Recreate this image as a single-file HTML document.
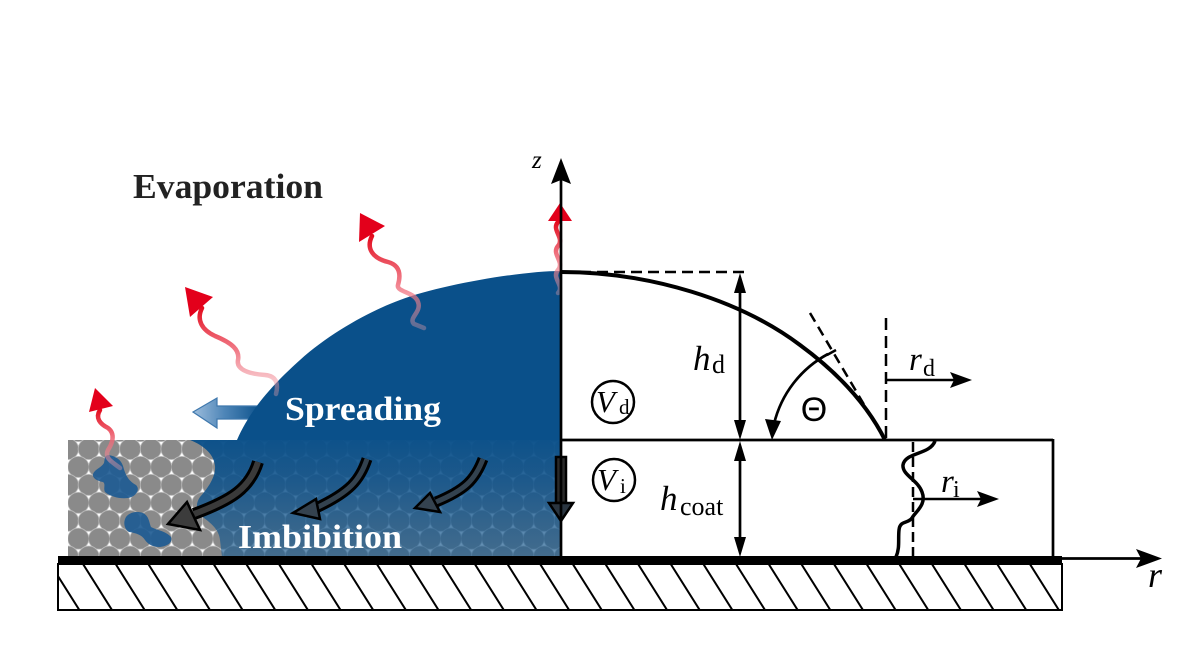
<!DOCTYPE html>
<html><head><meta charset="utf-8"><style>
html,body{margin:0;padding:0;background:#fff;}
svg{display:block;}
.m{font-family:"Liberation Serif",serif;font-style:italic;fill:#000;}
.s{font-family:"Liberation Serif",serif;fill:#000;}
.b{font-family:"Liberation Serif",serif;font-weight:bold;}
</style></head><body>
<svg width="1180" height="664" viewBox="0 0 1180 664" xmlns="http://www.w3.org/2000/svg">
<defs>
 <pattern id="hex" x="68" y="449" width="20.7" height="35.86" patternUnits="userSpaceOnUse">
   <rect width="20.7" height="35.86" fill="#ffffff"/>
   <g fill="#8a8a8a" stroke="#c4c4c4" stroke-width="0.7">
   <circle cx="0" cy="0" r="10.6"/>
   <circle cx="20.7" cy="0" r="10.6"/>
   <circle cx="10.35" cy="17.93" r="10.6"/>
   <circle cx="0" cy="35.86" r="10.6"/>
   <circle cx="20.7" cy="35.86" r="10.6"/>
   </g>
 </pattern>
 <linearGradient id="coat" gradientUnits="userSpaceOnUse" x1="0" y1="440" x2="0" y2="557">
   <stop offset="0" stop-color="#0a508a" stop-opacity="0.97"/>
   <stop offset="0.35" stop-color="#0c518b" stop-opacity="0.86"/>
   <stop offset="1" stop-color="#1b5b8f" stop-opacity="0.64"/>
 </linearGradient>
 <linearGradient id="wave" x1="0" y1="0" x2="0" y2="1">
   <stop offset="0" stop-color="#e30b1d" stop-opacity="1"/>
   <stop offset="0.5" stop-color="#ee6574" stop-opacity="0.85"/>
   <stop offset="1" stop-color="#f3a3ab" stop-opacity="0.35"/>
 </linearGradient>
 <linearGradient id="spr" x1="0" y1="0" x2="1" y2="0">
   <stop offset="0" stop-color="#9dbddc"/>
   <stop offset="0.45" stop-color="#4f86b8"/>
   <stop offset="1" stop-color="#0a508a"/>
 </linearGradient>
 <clipPath id="hc"><rect x="59" y="565" width="1002" height="44"/></clipPath>
</defs>

<rect x="68" y="440" width="493" height="117" fill="url(#hex)"/>
<path d="M190,440 L561,440 L561,557 L222,557 L220,540 C219,530 212,524 204,518 C196,512 195,504 200,497 C206,490 216,478 215,466 C214,455 205,446 190,440 Z" fill="url(#coat)"/>
<path d="M108,455 C116,456 121,460 123,466 C125,473 127,480 136,485 C141,490 135,497 128,498 C120,499 111,497 105,492 C103,488 106,484 103,482 C97,481 92,478 93,474 C95,469 101,468 104,463 C105,459 104,456 108,455 Z" fill="#1c5a92" fill-opacity="0.9"/>
<path d="M126,517 C130,512 137,511 143,513 C149,516 149,522 151,527 C156,530 166,531 171,537 C173,543 167,546 160,547 C152,547 148,544 145,540 C142,535 136,533 129,532 C124,529 123,522 126,517 Z" fill="#1c5a92" fill-opacity="0.9"/>

<path d="M193,412 L217,398 L217,406 L262,406 L262,419 L217,419 L217,428 Z" fill="url(#spr)" stroke="#3f78ad" stroke-width="1.2"/>

<path d="M561,271 C520,271 440,285 400,300 C370,311 330,333 300,360 C280,378 252,405 237,440 L561,440 Z" fill="#0a508a"/>

<g fill="none" stroke="url(#wave)" stroke-width="4.5" stroke-linecap="round">
 <path d="M558,222 C551,230 565,238 558,246 C551,254 565,262 558,270 C551,278 565,286 558,293"/>
 <path d="M372,236 C366,248 372,258 388,262 C402,266 400,278 398,285 C396,292 415,292 418,302 C422,312 408,318 414,324 L424,328"/>
 <path d="M202,308 C196,320 202,330 215,336 C232,343 240,350 238,360 C236,370 250,374 265,375 C278,376 278,386 276,394"/>
 <path d="M100,410 C95,418 100,424 108,428 C116,434 112,444 108,450 C104,458 112,462 120,468"/>
</g>
<g fill="#e3001b">
 <polygon points="548,221 572,221 560,203"/>
 <polygon points="360,213 359,242 385,226"/>
 <polygon points="185,287 190,317 213,297"/>
 <polygon points="95,388 89,412 113,406"/>
</g>

<g fill="none" stroke-linecap="butt">
 <path d="M258,462 C250,488 232,500 194,514" stroke="#000" stroke-width="12"/>
 <path d="M258,462 C250,488 232,500 194,514" stroke="#3a3a3a" stroke-width="6"/>
 <path d="M367,459 C360,480 350,492 316,508" stroke="#000" stroke-width="11"/>
 <path d="M367,459 C360,480 350,492 316,508" stroke="#33424f" stroke-width="5"/>
 <path d="M483,459 C475,480 465,490 436,502" stroke="#000" stroke-width="11"/>
 <path d="M483,459 C475,480 465,490 436,502" stroke="#33424f" stroke-width="5"/>
</g>
<g stroke="#000" stroke-width="2.5" stroke-linejoin="miter">
 <polygon points="168,524 187,502 200,530" fill="#3c3c3c"/>
 <polygon points="293,513 316,499 320,519" fill="#34424f"/>
 <polygon points="415,508 430,493 440,512" fill="#34424f"/>
 <rect x="556" y="457" width="10" height="46" fill="#2a2a2a"/>
 <polygon points="549,503 573,503 561,521" fill="#2a3540"/>
</g>

<text class="b" x="285" y="420" font-size="34" fill="#fff" textLength="156" lengthAdjust="spacingAndGlyphs">Spreading</text>
<text class="b" x="238" y="548" font-size="34" fill="#fff" textLength="164" lengthAdjust="spacingAndGlyphs">Imbibition</text>
<text class="b" x="133" y="198" font-size="35" fill="#222" textLength="190" lengthAdjust="spacingAndGlyphs">Evaporation</text>

<rect x="58" y="564" width="1004" height="46" fill="#fff" stroke="#000" stroke-width="2"/>
<g clip-path="url(#hc)" stroke="#000" stroke-width="2">
 <path d="M50.35,564 l29,46 M83,564 l29,46 M115.65,564 l29,46 M148.3,564 l29,46 M180.95,564 l29,46 M213.6,564 l29,46 M246.25,564 l29,46 M278.9,564 l29,46 M311.55,564 l29,46 M344.2,564 l29,46 M376.85,564 l29,46 M409.5,564 l29,46 M442.15,564 l29,46 M474.8,564 l29,46 M507.45,564 l29,46 M540.1,564 l29,46 M572.75,564 l29,46 M605.4,564 l29,46 M638.05,564 l29,46 M670.7,564 l29,46 M703.35,564 l29,46 M736,564 l29,46 M768.65,564 l29,46 M801.3,564 l29,46 M833.95,564 l29,46 M866.6,564 l29,46 M899.25,564 l29,46 M931.9,564 l29,46 M964.55,564 l29,46 M997.2,564 l29,46 M1029.85,564 l29,46"/>
</g>
<rect x="58" y="556" width="1004" height="8" fill="#000"/>

<g stroke="#000" fill="none">
 <line x1="561" y1="557" x2="561" y2="176" stroke-width="2.7"/>
 <line x1="561" y1="440" x2="1053" y2="440" stroke-width="2.7"/>
 <line x1="1053" y1="439" x2="1053" y2="557" stroke-width="2.7"/>
 <line x1="1060" y1="558.5" x2="1142" y2="558.5" stroke-width="2.7"/>
 <path d="M561,272 C650,272 740,300 800,345 C845,378 870,410 885,440" stroke-width="4"/>
 <line x1="563" y1="272" x2="748" y2="272" stroke-width="2.5" stroke-dasharray="11,6"/>
 <line x1="810" y1="313" x2="866" y2="408" stroke-width="2.5" stroke-dasharray="10,6"/>
 <line x1="886" y1="318" x2="886" y2="440" stroke-width="2.5" stroke-dasharray="12,6"/>
 <line x1="913" y1="442" x2="913" y2="557" stroke-width="2.5" stroke-dasharray="10,5"/>
 <line x1="827" y1="355" x2="836" y2="350" stroke-width="2.5"/>
 <path d="M828,354 A108,108 0 0 0 774,424" stroke-width="2.7"/>
 <line x1="740" y1="285" x2="740" y2="428" stroke-width="2.7"/>
 <line x1="740" y1="452" x2="740" y2="545" stroke-width="2.7"/>
 <line x1="886" y1="380" x2="956" y2="380" stroke-width="2.5"/>
 <line x1="913" y1="499" x2="982" y2="499" stroke-width="2.5"/>
 <path d="M935,441 C930,455 905,452 903,465 C902,475 918,480 922,492 C927,505 915,512 912,518 C908,524 900,520 899,530 C898,540 900,548 896,557" stroke-width="3.5"/>
 <circle cx="613" cy="402" r="21" stroke-width="2.5"/>
 <circle cx="614" cy="480" r="21" stroke-width="2.5"/>
</g>
<g fill="#000">
 <polygon points="561,158 551,184 561,180 571,184"/>
 <polygon points="1162,558.5 1136,549 1141,558.5 1136,568"/>
 <polygon points="740,273 734,293 746,293"/>
 <polygon points="740,440 734,420 746,420"/>
 <polygon points="740,441 734,461 746,461"/>
 <polygon points="740,557 734,537 746,537"/>
 <polygon points="972,380 950,372 954,380 950,388"/>
 <polygon points="999,499 977,491 981,499 977,507"/>
 <polygon points="772,440 765,419 781,421"/>
</g>

<text class="m" x="532" y="168" font-size="25">z</text>
<text class="m" x="1148" y="587" font-size="36">r</text>
<text class="m" x="693" y="370" font-size="35">h</text>
<text class="s" x="712" y="373" font-size="26">d</text>
<text class="m" x="660" y="510" font-size="35">h</text>
<text class="s" x="680" y="515" font-size="26">coat</text>
<text class="m" x="596" y="412" font-size="31">V</text>
<text class="s" x="619" y="414" font-size="21">d</text>
<text class="m" x="597" y="490" font-size="31">V</text>
<text class="s" x="620" y="493" font-size="21">i</text>
<text x="814" y="421" font-size="34" text-anchor="middle" font-family="'Liberation Sans',sans-serif" fill="#000">Θ</text>
<text class="m" x="909" y="370" font-size="33">r</text>
<text class="s" x="923" y="376" font-size="24">d</text>
<text class="m" x="941" y="492" font-size="33">r</text>
<text class="s" x="953" y="497" font-size="24">i</text>
</svg>
</body></html>
